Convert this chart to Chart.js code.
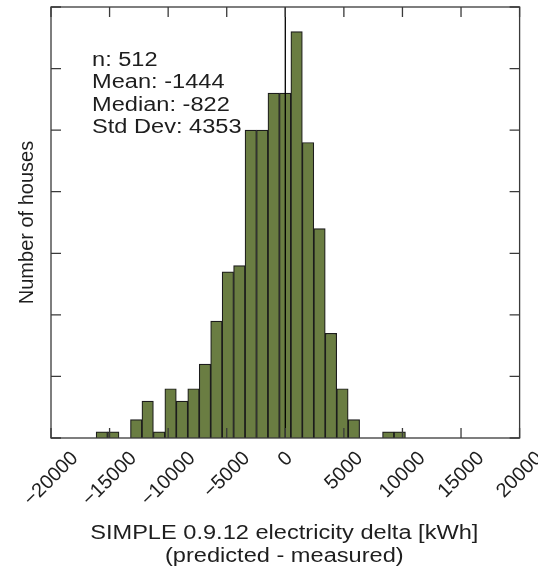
<!DOCTYPE html>
<html>
<head>
<meta charset="utf-8">
<script src="https://cdn.jsdelivr.net/npm/chart.js@4/dist/chart.umd.min.js"></script>
<style>
  body { margin: 0; background: #fff; }
  #wrap { width: 538px; height: 569px; position: relative; }
</style>
</head>
<body>
<div id="wrap"><canvas id="histChart"></canvas></div>
<script>
// histogram bins (centres, kWh) and house counts
const binCenters = [-15661, -14683, -13705, -12727, -11749, -10771, -9793, -8815, -7837,
    -6859, -5881, -4903, -3925, -2947, -1969, -991, -13, 965, 1943, 2921, 3899, 4877,
    5855, 6833, 7811, 8789, 9767];
const houseCounts = [1, 1, 0, 3, 6, 1, 8, 6, 8, 12, 19, 27, 28, 50, 50, 56, 56, 66, 48,
    34, 17, 8, 3, 0, 0, 1, 1];
const xTickValues = [-20000, -15000, -10000, -5000, 0, 5000, 10000, 15000, 20000];
const statLines = ['n: 512', 'Mean: -1444', 'Median: -822', 'Std Dev: 4353'];
const xTitleLines = ['SIMPLE 0.9.12 electricity delta [kWh]', '(predicted - measured)'];
const yTitle = 'Number of houses';

const FONT = '"Liberation Sans", Arial, sans-serif';
const TEXT = '#1e1e1e';
const STRETCH = 1.18; // horizontal text in the source is drawn wider

function stretchedText(ctx, str, x, y, align) {
    ctx.save();
    ctx.translate(x, y);
    ctx.scale(STRETCH, 1);
    ctx.textAlign = align;
    ctx.textBaseline = 'alphabetic';
    ctx.fillText(str, 0, 0);
    ctx.restore();
}

// frame, inward ticks, zero line and the text R draws by itself
const decorations = {
    id: 'decorations',
    afterDatasetsDraw(chart) {
        const { ctx, chartArea: a, scales: { x, y } } = chart;
        ctx.save();

        // vertical line at zero
        const x0 = x.getPixelForValue(0);
        ctx.strokeStyle = '#000';
        ctx.lineWidth = 1.3;
        ctx.beginPath();
        ctx.moveTo(x0, a.top);
        ctx.lineTo(x0, a.bottom);
        ctx.stroke();

        // box
        ctx.strokeStyle = '#3a3a3a';
        ctx.lineWidth = 1.3;
        ctx.strokeRect(a.left, a.top, a.right - a.left, a.bottom - a.top);

        // tick marks pointing inward on all four sides
        ctx.beginPath();
        x.ticks.forEach(t => {
            const px = x.getPixelForValue(t.value);
            ctx.moveTo(px, a.bottom); ctx.lineTo(px, a.bottom - 10);
            ctx.moveTo(px, a.top); ctx.lineTo(px, a.top + 10);
        });
        y.ticks.forEach(t => {
            const py = y.getPixelForValue(t.value);
            ctx.moveTo(a.left, py); ctx.lineTo(a.left + 10, py);
            ctx.moveTo(a.right, py); ctx.lineTo(a.right - 10, py);
        });
        ctx.stroke();

        // x tick labels, rotated 45deg and centred under the tick
        ctx.fillStyle = TEXT;
        const fs = 20;
        ctx.font = fs + 'px ' + FONT;
        const h = 0.716 * fs;
        x.ticks.forEach(t => {
            const label = t.value < 0 ? '\u2212' + Math.abs(t.value) : String(t.value);
            const w = ctx.measureText(label).width;
            const px = x.getPixelForValue(t.value) - 1;
            const cy = a.bottom + 11 + 0.7071 * (w + h) / 2;
            ctx.save();
            ctx.translate(px, cy);
            ctx.rotate(-Math.PI / 4);
            ctx.textAlign = 'center';
            ctx.textBaseline = 'alphabetic';
            ctx.fillText(label, 0, h / 2);
            ctx.restore();
        });

        // summary statistics
        ctx.font = '20px ' + FONT;
        statLines.forEach((s, i) => {
            stretchedText(ctx, s, a.left + 41, a.top + 59 + i * 22.4, 'left');
        });

        // x axis title (two lines)
        const cx = (a.left + a.right) / 2 - 1;
        xTitleLines.forEach((s, i) => {
            stretchedText(ctx, s, cx, a.bottom + 101 + i * 22.5, 'center');
        });

        ctx.restore();
    }
};

const ctx = document.getElementById('histChart').getContext('2d');
new Chart(ctx, {
    type: 'bar',
    data: {
        datasets: [{
            label: 'Houses',
            data: binCenters.map((c, i) => ({ x: c, y: houseCounts[i] })),
            backgroundColor: '#6a7d42',
            borderColor: '#1c1c1c',
            borderWidth: 1.2,
            categoryPercentage: 1,
            barPercentage: 1
        }]
    },
    options: {
        responsive: true,
        maintainAspectRatio: false,
        animation: false,
        layout: { padding: { top: 7, right: 18.4, bottom: 0, left: 0 } },
        plugins: { legend: { display: false }, tooltip: { enabled: false } },
        scales: {
            x: {
                type: 'linear',
                offset: false,
                min: -20000,
                max: 20000,
                afterBuildTicks: s => { s.ticks = xTickValues.map(v => ({ value: v })); },
                ticks: { display: false },
                grid: { display: false, drawTicks: false },
                border: { display: false },
                afterFit: s => {
                    s.height = 131;
                    s.paddingLeft = 0; s.paddingRight = 0;
                }
            },
            y: {
                min: 0,
                max: 70,
                ticks: { display: false, stepSize: 10 },
                grid: { display: false, drawTicks: false },
                border: { display: false },
                title: {
                    display: true,
                    text: yTitle,
                    color: TEXT,
                    font: { family: FONT, size: 20 },
                    padding: { top: 15, bottom: 0 }
                },
                afterFit: s => {
                    s.width = 51;
                    s.paddingTop = 0; s.paddingBottom = 0;
                }
            }
        }
    },
    plugins: [decorations]
});
</script>
</body>
</html>
